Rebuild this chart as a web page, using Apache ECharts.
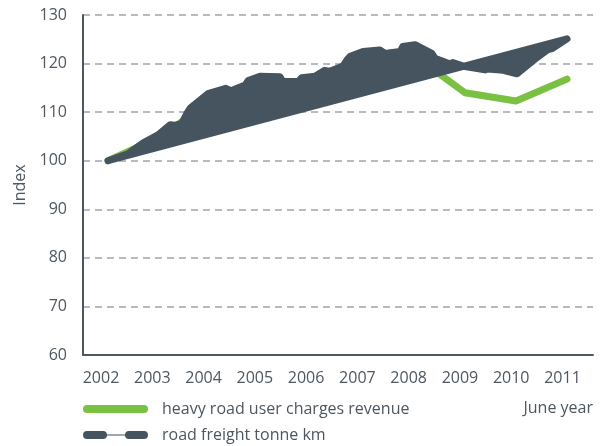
<!DOCTYPE html>
<html>
<head>
<meta charset="utf-8">
<script src="https://cdn.jsdelivr.net/npm/echarts@6/dist/echarts.min.js"></script>
<style>
html,body{margin:0;padding:0;background:#fff;}
#chart{width:600px;height:446px;}
</style>
</head>
<body>
<div id="chart"></div>
<script>
// ---- data ----
const years = [2002, 2003, 2004, 2005, 2006, 2007, 2008, 2009, 2010, 2011];
const hrucRevenue = [100, 104.8, 112, 115, 116, 119, 121.7, 114, 112.3, 116.8];
const freightYears = [2002.00, 2002.39, 2002.69, 2002.98, 2003.22, 2003.31, 2003.45, 2003.55, 2003.61, 2003.96,
  2004.31, 2004.41, 2004.69, 2004.75, 2004.98, 2005.37, 2005.43, 2005.73, 2005.80, 2006.06,
  2006.25, 2006.35, 2006.61, 2006.69, 2006.75, 2007.00, 2007.33, 2007.43, 2007.73, 2007.78,
  2008.02, 2008.35, 2008.41, 2008.71, 2008.76, 2009.00, 2009.39, 2009.45, 2009.75, 2010.02,
  2010.37, 2010.63, 2010.71, 2011.00];
const freightValues = [100.0, 101.4, 103.7, 105.3, 107.4, 107.3, 107.7, 109.8, 110.8, 113.8,
  114.9, 114.4, 115.6, 116.5, 117.4, 117.3, 116.3, 116.3, 117.1, 117.4,
  118.6, 118.4, 119.5, 120.8, 121.5, 122.5, 122.8, 122.1, 122.5, 123.5,
  123.9, 122.1, 121.1, 119.9, 120.2, 119.4, 118.7, 118.9, 118.6, 117.9,
  120.9, 122.9, 123.1, 125.1];
const yTicks = [60, 70, 80, 90, 100, 110, 120, 130];
const seriesNames = ['heavy road user charges revenue', 'road freight tonne km'];
const noteText = 'June year';
const axisName = 'Index';

// ---- style ----
const GREEN = '#7ac143';
const GRAY = '#45545f';
const AXIS = '#4b5862';
const TEXT = '#4d5760';
const FONT = '"Open Sans", sans-serif';

const chart = echarts.init(document.getElementById('chart'), null, {renderer: 'canvas'});

const option = {
  animation: false,
  backgroundColor: '#fff',
  textStyle: {fontFamily: FONT},
  grid: [
    {left: 83, right: 7, top: 15, bottom: 91},
    {left: 101, right: 37.5, top: 15, bottom: 91}
  ],
  xAxis: [
    {
      type: 'value', gridIndex: 0, min: 2001.51, max: 2011.51,
      axisLine: {show: true, lineStyle: {color: AXIS, width: 2}},
      axisTick: {show: false}, axisLabel: {show: false}, splitLine: {show: false}
    },
    {
      type: 'value', gridIndex: 1, min: years[0], max: years[years.length - 1], interval: 1,
      axisLine: {show: false}, axisTick: {show: false}, splitLine: {show: false},
      axisLabel: {
        margin: 15, color: TEXT, fontSize: 16, fontFamily: FONT,
        formatter: v => (years.indexOf(v) >= 0 ? String(v) : '')
      }
    }
  ],
  yAxis: [
    {
      type: 'value', gridIndex: 0, min: yTicks[0], max: yTicks[yTicks.length - 1], interval: 10,
      name: axisName, nameLocation: 'middle', nameGap: 55,
      nameTextStyle: {color: TEXT, fontSize: 16, fontFamily: FONT},
      axisLine: {show: true, lineStyle: {color: AXIS, width: 2}},
      axisTick: {show: false},
      axisLabel: {margin: 16, color: TEXT, fontSize: 16, fontFamily: FONT},
      splitLine: {show: true, lineStyle: {color: '#a0a5aa', width: 1.5, type: [7, 5]}}
    },
    {type: 'value', gridIndex: 1, min: 0, max: 1, show: false}
  ],
  legend: {
    orient: 'vertical', left: 83, top: 400, padding: 0, itemWidth: 65, itemHeight: 8, itemGap: 8,
    selectedMode: false,
    textStyle: {color: TEXT, fontSize: 16, fontFamily: FONT, lineHeight: 18, padding: [0, 0, 0, 9]},
    data: [
      {name: seriesNames[0], icon: 'path://M4,0 H61 A4,4 0 0 1 61,8 H4 A4,4 0 0 1 4,0 Z'},
      {name: seriesNames[1], icon: 'path://M4,0 H20 A4,4 0 0 1 20,8 H4 A4,4 0 0 1 4,0 Z M20,3.5 H46 V4.5 H20 Z M46,0 H61 A4,4 0 0 1 61,8 H46 A4,4 0 0 1 46,0 Z'}
    ]
  },
  graphic: [
    {type: 'text', right: 7, top: 400, style: {text: noteText, fill: TEXT, font: '16px ' + FONT}}
  ],
  series: [
    {
      name: seriesNames[0], type: 'line', xAxisIndex: 0, yAxisIndex: 0, z: 2,
      data: years.map((y, i) => [y, hrucRevenue[i]]),
      symbol: 'none', color: GREEN,
      lineStyle: {color: GREEN, width: 7, cap: 'round', join: 'round'}
    },
    {
      name: seriesNames[1], type: 'custom', xAxisIndex: 0, yAxisIndex: 0, z: 3,
      color: GRAY,
      data: freightYears.map((y, i) => [y, freightValues[i]]),
      renderItem: function (params, api) {
        if (params.dataIndex !== 0) return null;
        const pts = freightYears.map((y, i) => api.coord([y, freightValues[i]]));
        return {
          type: 'polygon',
          shape: {points: pts},
          style: {fill: GRAY, stroke: GRAY, lineWidth: 7, lineJoin: 'round', lineCap: 'round'}
        };
      }
    }
  ]
};
chart.setOption(option);
</script>
</body>
</html>
